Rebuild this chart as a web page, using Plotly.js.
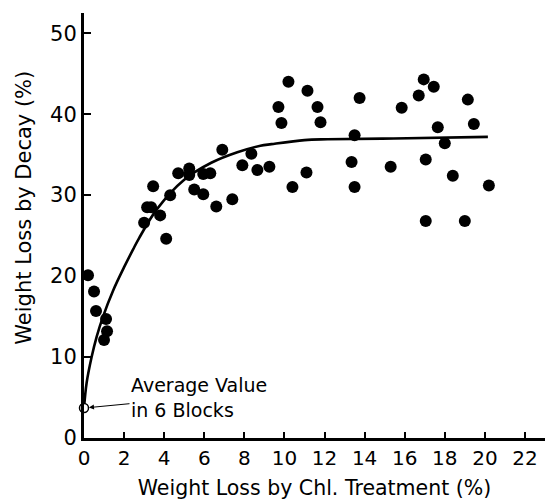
<!DOCTYPE html>
<html>
<head>
<meta charset="utf-8">
<script src="https://cdn.plot.ly/plotly-3.0.1.min.js"></script>
<style>html,body{margin:0;padding:0;background:#fff;}#chart{width:545px;height:502px;}</style>
</head>
<body>
<div id="chart"></div>
<script>
// Observed data points (Weight loss by Chl. treatment %, Weight loss by decay %)
const chlLoss = [0.2, 0.5, 0.6, 1.1, 1.15, 1.0, 4.1, 3.45, 3.15, 3.35, 3.0, 3.8, 4.3, 4.7, 5.25, 5.25, 5.5, 5.95, 5.95, 6.3, 6.6, 6.9, 7.4, 7.9, 8.35, 8.65, 9.25, 9.7, 9.85, 10.2, 11.15, 11.65, 11.8, 13.75, 13.5, 13.35, 13.5, 10.4, 11.1, 15.3, 15.85, 16.7, 16.95, 17.45, 17.65, 18.0, 17.05, 17.05, 18.4, 19.0, 19.15, 19.45, 20.2];
const decayLoss = [20.1, 18.1, 15.7, 14.7, 13.2, 12.1, 24.6, 31.1, 28.5, 28.5, 26.6, 27.5, 30.0, 32.7, 33.3, 32.5, 30.7, 30.1, 32.6, 32.7, 28.6, 35.6, 29.5, 33.7, 35.1, 33.1, 33.5, 40.9, 38.9, 44.0, 42.9, 40.9, 39.0, 42.0, 37.4, 34.1, 31.0, 31.0, 32.8, 33.5, 40.8, 42.3, 44.3, 43.4, 38.4, 36.4, 34.4, 26.8, 32.4, 26.8, 41.8, 38.8, 31.2];

// Average value in 6 blocks (untreated)
const avgX = [0];
const avgY = [3.7];

// Fitted curve
const curveX = [0, 0.13, 0.38, 0.63, 0.95, 1.45, 2.0, 2.45, 2.75, 3.65, 5.0, 6.35, 7.65, 8.8, 9.35, 11.0, 12.15, 15.45, 20.15];
const curveY = [3.7, 6.8, 10.0, 12.5, 15.0, 18.2, 21.1, 23.3, 24.7, 28.3, 31.9, 34.0, 35.3, 36.1, 36.3, 36.8, 36.9, 37.0, 37.2];

const xTicks = [0, 2, 4, 6, 8, 10, 12, 14, 16, 18, 20, 22];
const yTicks = [0, 10, 20, 30, 40, 50];

const FONT = 'DejaVu Sans, sans-serif';

const traces = [
  {
    x: curveX, y: curveY, type: 'scatter', mode: 'lines',
    line: {color: '#000', width: 2.6, shape: 'spline', smoothing: 1},
    hoverinfo: 'skip', cliponaxis: false
  },
  {
    x: chlLoss, y: decayLoss, type: 'scatter', mode: 'markers',
    marker: {color: '#000', size: 12, line: {width: 0}},
    cliponaxis: false
  },
  {
    x: avgX, y: avgY, type: 'scatter', mode: 'markers',
    marker: {color: '#fff', size: 9, line: {color: '#000', width: 1.5}},
    cliponaxis: false
  }
];

const layout = {
  width: 545, height: 502,
  margin: {l: 84, r: 0, t: 13, b: 64, pad: 0},
  paper_bgcolor: '#fff', plot_bgcolor: '#fff',
  showlegend: false,
  font: {family: FONT, color: '#000'},
  xaxis: {
    range: [0, 23.0], tickvals: xTicks, ticktext: xTicks.map(String),
    ticks: 'inside', ticklen: 6, tickwidth: 2, tickcolor: '#000',
    showline: true, linewidth: 3, linecolor: '#000',
    showgrid: false, zeroline: false,
    tickfont: {family: FONT, size: 20, color: '#000'},
    title: {text: 'Weight Loss by Chl. Treatment (%)', font: {family: FONT, size: 20.5, color: '#000'}, standoff: 12}
  },
  yaxis: {
    range: [0, 52.5], tickvals: yTicks, ticktext: yTicks.map(String),
    ticks: 'inside', ticklen: 7, tickwidth: 2, tickcolor: '#000',
    showline: true, linewidth: 3, linecolor: '#000',
    showgrid: false, zeroline: false,
    tickfont: {family: FONT, size: 21, color: '#000'}
  },
  annotations: [
    {
      // y-axis title, placed where the reference has it
      xref: 'paper', yref: 'paper', x: -0.131, y: 0.541,
      xanchor: 'center', yanchor: 'middle', textangle: -90, showarrow: false,
      text: 'Weight Loss by Decay (%)',
      font: {family: FONT, size: 21, color: '#000'}
    },
    {
      x: 0, y: 3.7, xref: 'x', yref: 'y',
      text: 'Average Value<br>in 6 Blocks',
      showarrow: true, arrowhead: 2, arrowsize: 1, arrowwidth: 1, arrowcolor: '#000',
      standoff: 5, ax: 115, ay: -11, align: 'left',
      font: {family: FONT, size: 19, color: '#000'}
    }
  ]
};

Plotly.newPlot('chart', traces, layout, {displayModeBar: false, staticPlot: true});
</script>
</body>
</html>
